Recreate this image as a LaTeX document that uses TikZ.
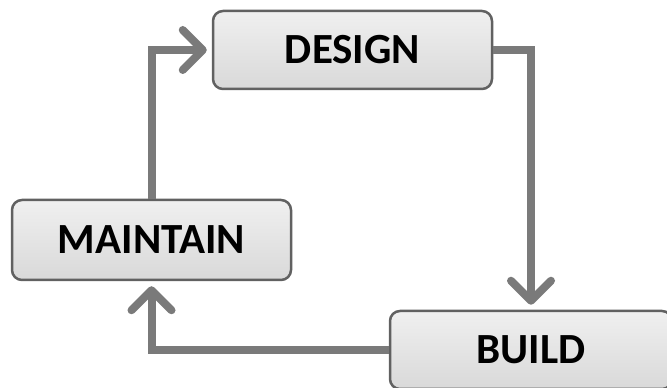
\documentclass[tikz,border=0pt]{standalone}
\usepackage{fontspec}
\setmainfont{Carlito}
\usetikzlibrary{arrows.meta}
\usetikzlibrary{positioning}
\tikzset{
    stage/.style={
        rectangle, rounded corners=10pt,
        minimum width=279pt, minimum height=78pt,
        draw=black!62, line width=2.5pt,
        top color=gray!12, bottom color=gray!30,
        text=black, font=\fontsize{43}{47}\selectfont\bfseries,
    },
    flow/.style={
        draw=black!52, line width=8pt,
        -{Straight Barb[length=20pt, width=40pt, round]},
        shorten >=5pt,
    },
}
\begin{document}
\begin{tikzpicture}[x=1pt, y=1pt]
        \useasboundingbox (0,0) rectangle (667,388);

        \node (design) at(352.5,338) [stage] {DESIGN};
        \node (maintain) at(151.5,148) [stage, minimum height=80pt] {MAINTAIN};
        \node (build) at(531,38) [stage, minimum width=282pt] {BUILD};

        \draw[flow] (maintain.north) |- (design.west);
        \draw[flow] (design.east) -| (build.north);
        \draw[flow] (build.west) -| (maintain.south);
    \end{tikzpicture}
\end{document}
